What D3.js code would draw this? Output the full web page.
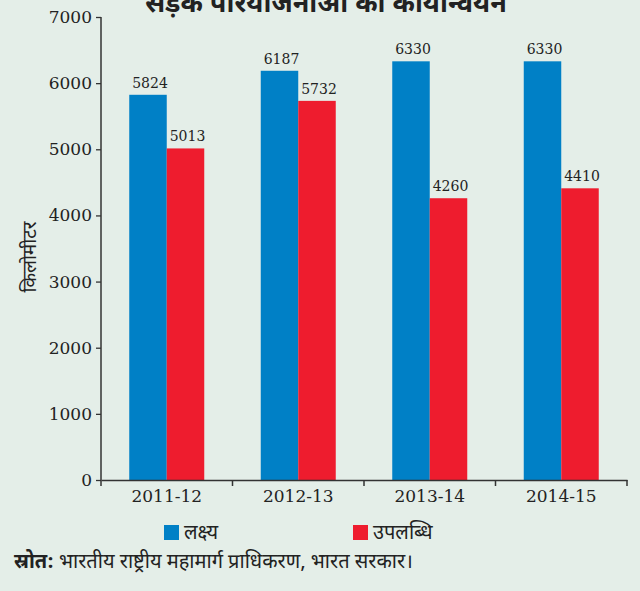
<!DOCTYPE html>
<html>
<head>
<meta charset="utf-8">
<script src="https://cdnjs.cloudflare.com/ajax/libs/d3/7.8.5/d3.min.js"></script>
<style>
  body { margin: 0; background: #e4eee8; }
  svg { display: block; }
  .num { font-family: "DejaVu Serif", serif; fill: #222; }
  .hin { font-family: "Noto Sans Devanagari", "Lohit Devanagari", "FreeSans", sans-serif; fill: #222; }
</style>
</head>
<body>
<div id="chart"></div>
<script>
// data
var years = ["2011-12", "2012-13", "2013-14", "2014-15"];
var seriesNames = ["लक्ष्य", "उपलब्धि"];
var target = [5824, 6187, 6330, 6330];
var achieved = [5013, 5732, 4260, 4410];
var yTicks = [0, 1000, 2000, 3000, 4000, 5000, 6000, 7000];
var colors = ["#0080c6", "#ee1c2e"];

var width = 640, height = 591;
var svg = d3.select("#chart").append("svg")
   .attr("width", width).attr("height", height);

svg.append("rect").attr("width", width).attr("height", height).attr("fill", "#e4eee8");

// scales
var x = d3.scaleBand().domain(years).range([101, 627]).padding(0);
var groupW = 75;
var x1 = d3.scaleBand().domain(seriesNames).range([0, groupW]).padding(0);
var y = d3.scaleLinear().domain([0, 7000]).range([480, 17]);

var rows = years.map(function(yr, i) {
   return { year: yr, vals: [target[i], achieved[i]] };
});

// bars
var groups = svg.append("g").selectAll("g").data(rows).enter().append("g")
   .attr("transform", function(d) { return "translate(" + (x(d.year) + (x.bandwidth() - groupW) / 2) + ",0)"; });

groups.selectAll("rect").data(function(d) { return d.vals; }).enter().append("rect")
   .attr("x", function(d, j) { return x1(seriesNames[j]); })
   .attr("y", function(d) { return y(d); })
   .attr("width", x1.bandwidth())
   .attr("height", function(d) { return y(0) - y(d); })
   .attr("fill", function(d, j) { return colors[j]; });

groups.selectAll("text").data(function(d) { return d.vals; }).enter().append("text")
   .attr("class", "num")
   .attr("x", function(d, j) { return x1(seriesNames[j]) + x1.bandwidth() / 2 + 2; })
   .attr("y", function(d) { return y(d) - 7; })
   .attr("text-anchor", "middle")
   .attr("font-size", 14)
   .text(function(d) { return d; });

// y axis
var yAxis = d3.axisLeft(y).tickValues(yTicks).tickFormat(d3.format("d"))
   .tickSize(5).tickSizeOuter(0).tickPadding(4);
var gy = svg.append("g").attr("transform", "translate(101,0)").call(yAxis);
gy.select(".domain").remove();
gy.selectAll("line").attr("stroke", "#333").attr("stroke-width", 1.3);
gy.selectAll("text").attr("class", "num").attr("font-size", 17).style("font-family", "DejaVu Serif, serif");
svg.append("line").attr("x1", 101).attr("x2", 101).attr("y1", y(7000)).attr("y2", y(0) + 6)
   .attr("stroke", "#333").attr("stroke-width", 1.5);

// x axis
var xAxis = d3.axisBottom(x).tickSize(0).tickSizeOuter(0).tickPadding(10);
var gx = svg.append("g").attr("transform", "translate(0," + y(0) + ")").call(xAxis);
gx.select(".domain").attr("stroke", "#333").attr("stroke-width", 1.5);
gx.selectAll("text").attr("font-size", 17).style("font-family", "DejaVu Serif, serif").attr("fill", "#222");
svg.append("g").selectAll("line").data(years).enter().append("line")
   .attr("x1", function(d) { return x(d) + x.bandwidth(); })
   .attr("x2", function(d) { return x(d) + x.bandwidth(); })
   .attr("y1", y(0)).attr("y2", y(0) + 6)
   .attr("stroke", "#333").attr("stroke-width", 1.5);

// title (cut at the top in the original)
svg.append("text").attr("class", "hin")
   .attr("x", 326).attr("y", 12)
   .attr("text-anchor", "middle")
   .attr("font-size", 27).attr("font-weight", "bold")
   .text("सड़क परियोजनाओं का कार्यान्वयन");

// y label
svg.append("text").attr("class", "hin")
   .attr("transform", "translate(36,257) rotate(-90)")
   .attr("text-anchor", "middle")
   .attr("font-size", 19)
   .text("किलोमीटर");

// legend
var legendX = [164, 353];
var leg = svg.append("g").selectAll("g").data(seriesNames).enter().append("g")
   .attr("transform", function(d, i) { return "translate(" + legendX[i] + ",525)"; });
leg.append("rect").attr("width", 15).attr("height", 15)
   .attr("fill", function(d, i) { return colors[i]; });
leg.append("text").attr("class", "hin")
   .attr("x", 20).attr("y", 14)
   .attr("font-size", 20)
   .text(function(d) { return d; });

// source
var src = svg.append("text").attr("class", "hin")
   .attr("x", 14).attr("y", 568).attr("font-size", 20);
src.append("tspan").attr("font-weight", "bold").text("स्रोत:");
src.append("tspan").text(" भारतीय राष्ट्रीय महामार्ग प्राधिकरण, भारत सरकार।");
</script>
</body>
</html>
